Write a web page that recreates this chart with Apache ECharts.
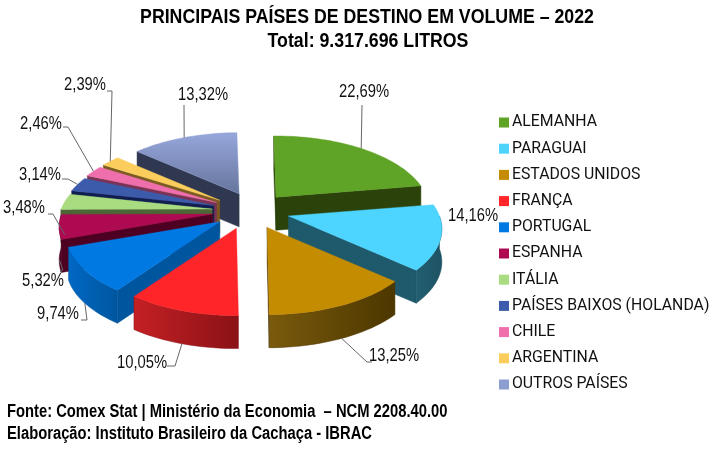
<!DOCTYPE html>
<html><head><meta charset="utf-8">
<script src="https://cdn.jsdelivr.net/npm/echarts@6/dist/echarts.min.js"></script>
<style>html,body{margin:0;padding:0;background:#fff}#c{width:720px;height:449px}</style></head>
<body><div id="c"></div>
<script>
const countries = ['ALEMANHA','PARAGUAI','ESTADOS UNIDOS','FRANÇA','PORTUGAL','ESPANHA','ITÁLIA','PAÍSES BAIXOS (HOLANDA)','CHILE','ARGENTINA','OUTROS PAÍSES'];
const shares = [22.69,14.16,13.25,10.05,9.74,5.32,3.48,3.14,2.46,2.39,13.32];
const shareLabels = ['22,69%','14,16%','13,25%','10,05%','9,74%','5,32%','3,48%','3,14%','2,46%','2,39%','13,32%'];

// styling, separate from the data
const topColors  = ['#5fa327','#4dd5ff','#c48c00','#ff2529','#0079e2','#ae0a52','#a9dc80','#3c5cab','#ee6fab','#fbcd5c','#8c9dd0'];
const wallLight  = ['#2b420a','#225f72','#7a5a0c','#c42024','#0068c4','#5c0028','#55703a','#15265c','#8a3d62','#8a6a28','#333c56'];
const wallDark   = ['#2b420a','#1d5263','#4c3700','#8a1216','#00569f','#45001e','#4a6233','#0f1c4a','#6e2f4e','#6e5420','#2a3248'];
const wallSide   = ['#2b420a','#1f5a6c','#50390a','#a01818','#00559f','#4d0021','#4c6636','#101f50','#7a3355','#7a5a20','#2f3850'];

// geometry of the tilted pie
const cx = 251, cy = 211, explodeX = 39, explodeY = 18, rx = 151, ry = 72, persp = 0.176, depth = 33, startDeg = -1;
const explodeXFactor = [1,1,1,1.25,1,1,1,1,1,1,0.72];
const explodeYFactor = [1,1,1,1,1,1,1,1,1,1,1.05];
// label centres and leader elbows
const labelAt = [[364,92],[473,216],[394,356],[142,363],[58,314],[43,281],[24,208],[40,175],[41,124],[85,85],[203,95]];
const leaderVia = [
  [[362,105]], null, [[367,362],[372,362]], [[175,366],[167,366]], [[87,320],[81,320]],
  [[63,270],[60,272]], [[53,214],[48,214]], [[68,179],[62,179]], [[68,127],[63,127]], [[112,91],[107,91]], [[184,105]]
];
const leaderBottom = [false,false,true,true,true,true,true,false,false,false,false];
const labelFont = '18px "Liberation Sans",Arial,sans-serif', labelSqueeze = 0.82;

const total = shares.reduce((a,b)=>a+b,0);
let acc = startDeg;
const slices = shares.map(v => { const a0 = acc; acc += v/total*360; return {a0, a1: acc, mid:(a0+acc)/2}; });
const rad = d => d*Math.PI/180;
const rank = slices.map((s,i)=>[-Math.cos(rad(s.mid)),i]).sort((a,b)=>a[0]-b[0]).reduce((m,e,r)=>{m[e[1]]=r;return m;},{});

function apex(i){ const m = rad(slices[i].mid); return [cx+explodeX*explodeXFactor[i]*Math.sin(m), cy-explodeY*explodeYFactor[i]*Math.cos(m)]; }
function pt(i,deg){ const a=apex(i), t=rad(deg), u=Math.sin(t), v=-Math.cos(t), d=1-persp*v;
  return [a[0]+rx*u/d, a[1]+ry*v/d]; }
function down(p){ return [p[0],p[1]+depth]; }
function arc(i,from,to){ const out=[], n=Math.max(2,Math.ceil((to-from)/2)); for(let k=0;k<=n;k++) out.push(pt(i,from+(to-from)*k/n)); return out; }
function cross(a,b,c){ return (b[0]-a[0])*(c[1]-a[1])-(b[1]-a[1])*(c[0]-a[0]); }

function renderSlice(i){
  const s = slices[i], A = apex(i), base = rank[i]*10+10, kids = [];
  const M = pt(i,s.mid);
  [s.a0,s.a1].forEach(deg=>{
    const P = pt(i,deg);
    const sideM = cross(A,P,M), sideD = cross(A,P,[A[0],A[1]+1]);
    if (sideM*sideD < 0) kids.push({type:'polygon',z2:base,shape:{points:[A,P,down(P),down(A)]},style:{fill:wallSide[i],stroke:wallSide[i],lineWidth:.5}});
  });
  const from = Math.max(s.a0,90), to = Math.min(s.a1,270);
  if (to>from){
    const top = arc(i,from,to), bot = top.map(down).reverse();
    kids.push({type:'polygon',z2:base+1,shape:{points:top.concat(bot)},style:{
      fill:{type:'linear',x:0,y:0,x2:1,y2:0,colorStops:[{offset:0,color:wallLight[i]},{offset:1,color:wallDark[i]}]},stroke:wallDark[i],lineWidth:.5}});
  }
  const fill = i===10 ? {type:'linear',x:0,y:0,x2:0,y2:1,colorStops:[{offset:0,color:'#97a7dc'},{offset:1,color:'#66759c'}]} : topColors[i];
  kids.push({type:'polygon',z2:base+2,shape:{points:[A].concat(arc(i,s.a0,s.a1))},style:{fill,stroke:topColors[i],lineWidth:.4}});
  const via = leaderVia[i];
  if (via){
    const st = leaderBottom[i] ? down(M) : M;
    kids.push({type:'polyline',z2:200,shape:{points:[st].concat(via)},style:{fill:null,stroke:'#666',lineWidth:1}});
  }
  kids.push({type:'text',z2:210,x:labelAt[i][0],y:labelAt[i][1],scaleX:labelSqueeze,style:{text:shareLabels[i],x:0,y:0,align:'center',verticalAlign:'middle',font:labelFont,fill:'#111'}});
  return {type:'group',children:kids};
}

const series = countries.map((name,i)=>({
  type:'custom', name, coordinateSystem:'none', silent:true, animation:false,
  itemStyle:{color:topColors[i]}, data:[[shares[i]]],
  renderItem:()=>renderSlice(i)
}));

const chart = echarts.init(document.getElementById('c'),null,{renderer:'canvas'});
const headFont = 'bold 21px "Liberation Sans",Arial,sans-serif', footFont = 'bold 18px "Liberation Sans",Arial,sans-serif';
function squeezed(text,x,y,font,sx,align){ return {type:'text',x,y,scaleX:sx,silent:true,z:20,style:{text,x:0,y:0,font,fill:'#000',align,verticalAlign:'middle'}}; }
chart.setOption({
  animation:false, backgroundColor:'#fff',
  graphic:[
    squeezed('PRINCIPAIS PAÍSES DE DESTINO EM VOLUME – 2022',367,17,headFont,0.845,'center'),
    squeezed('Total: 9.317.696 LITROS',368,41,headFont,0.845,'center'),
    squeezed('Fonte: Comex Stat | Ministério da Economia  – NCM 2208.40.00',7,412,footFont,0.82,'left'),
    squeezed('Elaboração: Instituto Brasileiro da Cachaça - IBRAC',7,434,footFont,0.82,'left')
  ],
  legend:{orient:'vertical',left:499,top:113,itemWidth:10,itemHeight:10,itemGap:7.2,selectedMode:false,padding:0,icon:'rect',
    data:countries,textStyle:{fontFamily:'Roboto',fontSize:15.8,color:'#111',padding:[0,0,0,-2],height:19,lineHeight:19}},
  series
});
</script></body></html>
